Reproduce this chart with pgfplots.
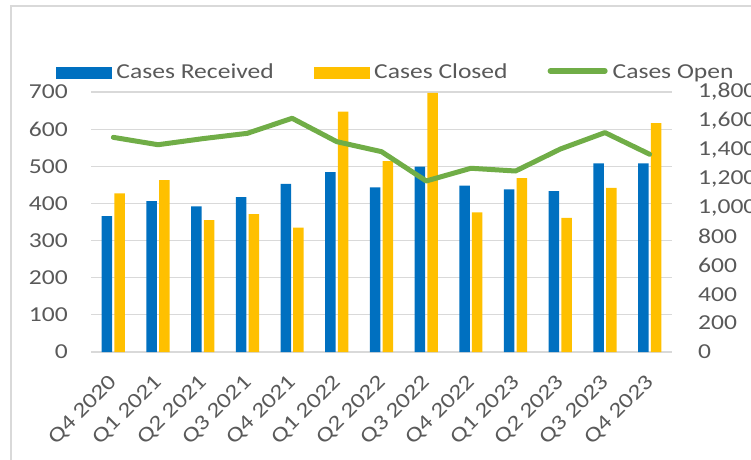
\documentclass[border=0pt]{standalone}
\usepackage{pgfplots}
\pgfplotsset{compat=1.18}
\usepackage{pgfplotstable}
\usepackage{fontspec}
\setmainfont{Carlito}[FakeStretch=1.2]
\definecolor{cblue}{HTML}{0070C0}
\definecolor{cyellow}{HTML}{FFC000}
\definecolor{cgreen}{HTML}{70AD47}
\definecolor{ctext}{HTML}{595959}
\definecolor{cgrid}{HTML}{D9D9D9}

\pgfplotstableread{
x rec clo open
0 366 427 1486
1 406 463 1435
2 392 355 1477
3 417 371 1514
4 453 335 1618
5 484 647 1456
6 443 514 1387
7 499 698 1184
8 448 376 1272
9 438 468 1253
10 433 361 1405
11 508 442 1519
12 508 616 1369
}\datatable

\newcommand{\bigfont}{\fontsize{21.3}{25}\selectfont}

\begin{document}
\begin{tikzpicture}
\useasboundingbox (0pt,0pt) rectangle (751pt,459pt);
\draw[cgrid, line width=2pt] (11pt,-5pt) -- (11pt,453pt) -- (760pt,453pt);
\begin{axis}[
  at={(91pt,107pt)}, anchor=south west, scale only axis,
  width=581pt, height=260pt,
  xmin=-0.5, xmax=12.5, ymin=0, ymax=700,
  ytick={0,100,...,700},
  xtick={0,...,12},
  xticklabels={Q4 2020,Q1 2021,Q2 2021,Q3 2021,Q4 2021,Q1 2022,Q2 2022,Q3 2022,Q4 2022,Q1 2023,Q2 2023,Q3 2023,Q4 2023},
  axis x line*=bottom, axis y line*=left,
  x axis line style={draw=cgrid, line width=1.4pt, -},
  y axis line style={draw=none},
  major tick length=0pt,
  ymajorgrids, grid style={cgrid, line width=1.2pt},
  tick label style={font=\bigfont, text=ctext},
  yticklabel style={anchor=east, inner sep=0pt, xshift=-23pt},
  xticklabel style={xshift=1pt, yshift=-27pt, rotate=45, anchor=east, inner sep=0pt},
  /pgf/number format/assume math mode=true,
  ybar=2.2pt, bar width=10.5pt,
  clip=false,
]
\addplot[fill=cblue, draw=none] table[x=x, y=rec] {\datatable};
\addplot[fill=cyellow, draw=none] table[x=x, y=clo] {\datatable};
\end{axis}
\begin{axis}[
  at={(91pt,107pt)}, anchor=south west, scale only axis,
  width=581pt, height=260pt,
  xmin=-0.5, xmax=12.5, ymin=0, ymax=1800,
  ytick={0,200,...,1800},
  axis x line=none, axis y line*=right,
  y axis line style={draw=none},
  major tick length=0pt,
  tick label style={font=\bigfont, text=ctext},
  yticklabel style={anchor=west, inner sep=0pt, xshift=26pt},
  /pgf/number format/assume math mode=true,
  /pgf/number format/1000 sep={,},
  clip=false,
  legend columns=3,
  legend style={at={(-0.0602,1.0769)}, anchor=west, draw=none, fill=none,
    inner sep=0pt, outer sep=0pt, font=\bigfont, text=ctext,
    nodes={inner sep=1pt, anchor=base west},
    /tikz/every odd column/.append style={column sep=4pt},
    /tikz/every even column/.append style={column sep=39pt}},
]
\addlegendimage{legend image code/.code={\fill[cblue] (0pt,0pt) rectangle (55pt,11.5pt);}}
\addlegendentry{Cases Received}
\addlegendimage{legend image code/.code={\fill[cyellow] (0pt,0pt) rectangle (55pt,11.5pt);}}
\addlegendentry{Cases Closed}
\addplot[cgreen, line width=5pt, line cap=round, line join=round, mark=none,
  legend image code/.code={\path[draw=none, fill=none] (0pt,0pt) -- (60pt,0pt);
    \draw[cgreen, line width=5.5pt, line cap=round] (2.75pt,7.7pt) -- (57.25pt,7.7pt);}]
  table[x=x, y=open] {\datatable};
\addlegendentry{Cases Open}
\end{axis}
\end{tikzpicture}
\end{document}
